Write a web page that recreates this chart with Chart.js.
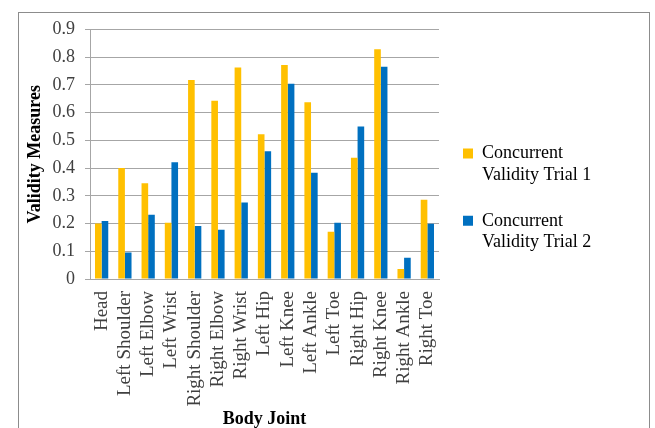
<!DOCTYPE html>
<html>
<head>
<meta charset="utf-8">
<script src="https://cdn.jsdelivr.net/npm/chart.js@4"></script>
<style>
html,body{margin:0;padding:0;background:#fff;overflow:hidden}
#frame{position:absolute;left:18px;top:12px;width:630px;height:440px;border:1px solid #8c8c8c}
#wrap{position:absolute;left:19px;top:13px;width:629px;height:417px}
</style>
</head>
<body>
<div id="frame"></div>
<div id="wrap"><canvas id="validityChart"></canvas></div>
<script>
let joints = ["Head","Left Shoulder","Left Elbow","Left Wrist","Right Shoulder","Right Elbow","Right Wrist","Left Hip","Left Knee","Left Ankle","Left Toe","Right Hip","Right Knee","Right Ankle","Right Toe"]

let trial1 = [0.20,0.40,0.345,0.203,0.718,0.643,0.763,0.522,0.772,0.638,0.170,0.437,0.829,0.036,0.286]
let trial2 = [0.209,0.096,0.232,0.421,0.191,0.178,0.276,0.461,0.704,0.383,0.203,0.550,0.766,0.077,0.199]

let legendText = [["Concurrent","Validity Trial 1"],["Concurrent","Validity Trial 2"]]

const serif = "'Liberation Serif', 'Times New Roman', serif"
const gridGrey = "#a6a6a6"

// legend box gets a fixed width so the plot ends where the reference one does
const legendWidth = {
id:"legendWidth",
beforeLayout(c){
const lg = c.legend
if(lg && !lg._fixedFit){
const fit = lg.fit.bind(lg)
lg.fit = function(){ fit(); this.width = 209 }
lg._fixedFit = true
}
}
}

const ctx = document.getElementById("validityChart")

let chart = new Chart(ctx, {

type: "bar",

data: {
labels: joints,
datasets: [
{label:"Concurrent Validity Trial 1",data:trial1,backgroundColor:"#ffc000"},
{label:"Concurrent Validity Trial 2",data:trial2,backgroundColor:"#0070c0"}
]
},

plugins:[legendWidth],

options:{
responsive:true,
maintainAspectRatio:false,
animation:false,
categoryPercentage:0.57,
barPercentage:1,
layout:{
padding:{top:16.5,left:0,right:0,bottom:0}
},
plugins:{
legend:{
position:"right",
align:"end",
fullSize:false,
labels:{
font:{family:serif,size:18},
color:"#404040",
boxWidth:10,
boxHeight:10,
padding:24,
generateLabels: c => c.data.datasets.map((ds,i) => ({
text:legendText[i],
fillStyle:ds.backgroundColor,
strokeStyle:ds.backgroundColor,
lineWidth:0,
datasetIndex:i
}))
}
},
tooltip:{enabled:false}
},
scales:{
x:{
grid:{display:false,drawOnChartArea:false,drawTicks:true},
border:{color:gridGrey},
ticks:{
font:{family:serif,size:19},
color:"#404040",
minRotation:90,
maxRotation:90,
autoSkip:false,
padding:4
},
title:{
display:true,
text:"Body Joint",
font:{family:serif,size:18,weight:"bold"},
color:"#000",
padding:{top:0,bottom:0}
},
afterFit: s => { s.height = 151 }
},
y:{
min:0,
max:0.9,
ticks:{
stepSize:0.1,
font:{family:serif,size:18},
color:"#404040",
padding:10
},
grid:{color:gridGrey,tickLength:5},
border:{color:gridGrey},
title:{
display:true,
text:"Validity Measures",
font:{family:serif,size:18,weight:"bold"},
color:"#000",
padding:{top:6,bottom:0}
},
afterFit: s => { s.width = 71; s.paddingTop = 0; s.paddingBottom = 0 }
}
}
}

})
</script>
</body>
</html>
